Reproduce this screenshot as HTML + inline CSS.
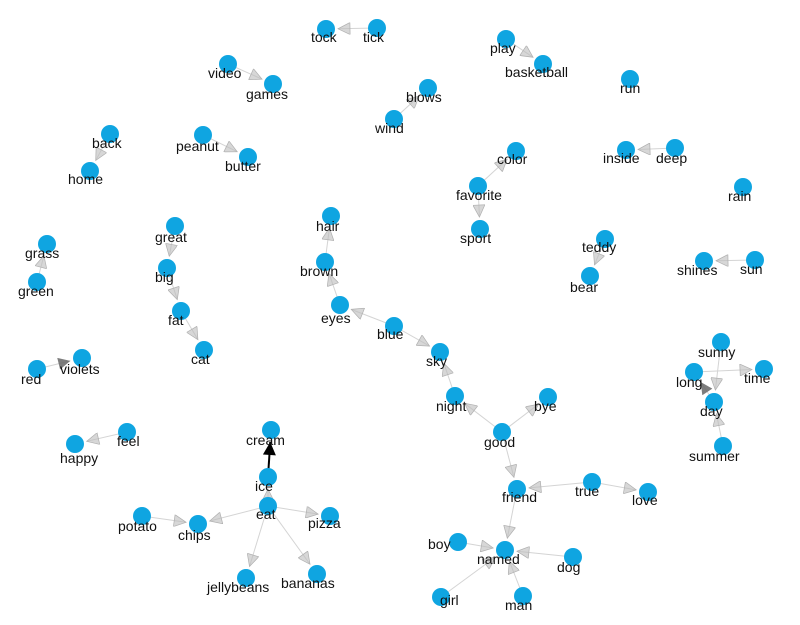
<!DOCTYPE html>
<html><head><meta charset="utf-8"><style>
html,body{margin:0;padding:0;background:#fff;}
svg{display:block;}
text{font-family:"Liberation Sans",sans-serif;font-size:14px;fill:#111;}
</style></head><body>
<svg id="g" width="800" height="625" viewBox="0 0 800 625">
<defs>
<marker id="ah" viewBox="0 0 10 10" refX="10" refY="5" markerWidth="15" markerHeight="12" orient="auto" markerUnits="userSpaceOnUse"><path d="M0,0 L10,5 L0,10 z" fill="#bcbcbc" fill-opacity="0.6" stroke="#b0b0b0" stroke-width="0.6"/></marker>
<marker id="ahd" viewBox="0 0 10 10" refX="10" refY="5" markerWidth="15" markerHeight="12" orient="auto" markerUnits="userSpaceOnUse"><path d="M0,0 L10,5 L0,10 z" fill="#666" fill-opacity="0.85"/></marker>
<marker id="ahb" viewBox="0 0 10 10" refX="10" refY="5" markerWidth="15" markerHeight="13" orient="auto" markerUnits="userSpaceOnUse"><path d="M0,0 L10,5 L0,10 z" fill="#000"/></marker>
</defs>
<g id="edges"></g><g id="nodes"></g><g id="labels"></g>
</svg>
<script>
// node names, node layout x/y, label layout x/y
const names=["tock","tick","play","basketball","run","video","games","blows","wind","back","home","peanut","butter","color","favorite","sport","inside","deep","rain","hair","brown","eyes","blue","sky","teddy","bear","shines","sun","grass","green","great","big","fat","cat","red","violets","happy","feel","cream","ice","pizza","eat","chips","potato","jellybeans","bananas","night","good","bye","friend","true","love","named","boy","dog","girl","man","sunny","time","long","day","summer"];
const nodeX=[326,377,506,543,630,228,273,428,394,110,90,203,248,516,478,480,626,675,743,331,325,340,394,440,605,590,704,755,47,37,175,167,181,204,37,82,75,127,271,268,330,268,198,142,246,317,455,502,548,517,592,648,505,458,573,441,523,721,764,694,714,723];
const nodeY=[29,28,39,64,79,64,84,88,119,134,171,135,157,151,186,229,150,148,187,216,262,305,326,352,239,276,261,260,244,282,226,268,311,350,369,358,444,432,430,477,516,506,524,516,578,574,396,432,397,489,482,492,550,542,557,597,596,342,369,372,402,446];
const labelX=[311,363,490,505,620,208,246,406,375,92,68,176,225,497,456,460,603,656,728,316,300,321,377,426,582,570,677,740,25,18,155,155,168,191,21,60,60,117,246,255,308,256,178,118,207,281,436,484,534,502,575,632,477,428,557,440,505,698,744,676,700,689];
const labelY=[37,37,48,72,88,73,94,97,128,143,179,146,166,159,195,238,158,158,196,226,271,318,334,361,247,287,270,269,253,291,237,277,320,359,379,369,458,441,440,486,523,514,535,526,587,583,406,442,406,497,491,500,559,544,567,600,605,352,378,382,411,456];
// edges: source -> target, style (0 light, 1 dark, 2 black)
const edgeFrom=["tick","play","video","wind","back","peanut","favorite","favorite","deep","brown","eyes","blue","blue","teddy","sun","green","great","big","fat","red","feel","ice","eat","eat","eat","eat","eat","potato","night","good","good","good","true","true","friend","boy","dog","girl","man","sunny","summer","day","long"];
const edgeTo=["tock","basketball","games","blows","home","butter","color","sport","inside","hair","brown","eyes","sky","bear","shines","grass","big","fat","cat","violets","happy","cream","ice","pizza","chips","bananas","jellybeans","chips","sky","night","bye","friend","friend","love","named","named","named","named","named","day","day","long","time"];
const edgeStyle=[0,0,0,0,0,0,0,0,0,0,0,0,0,0,0,0,0,0,0,1,0,2,0,0,0,0,0,0,0,0,0,0,0,0,0,0,0,0,0,0,0,1,0];
const R=9, NS="http://www.w3.org/2000/svg";
const eg=document.getElementById('edges'),ng=document.getElementById('nodes'),lg=document.getElementById('labels');
const idx=n=>names.indexOf(n);
for(let k=0;k<edgeFrom.length;k++){
  const a=idx(edgeFrom[k]),b=idx(edgeTo[k]);
  const x1=nodeX[a],y1=nodeY[a],x2=nodeX[b],y2=nodeY[b];
  const d=Math.hypot(x2-x1,y2-y1)||1,ux=(x2-x1)/d,uy=(y2-y1)/d;
  const s=edgeStyle[k];
  const l=document.createElementNS(NS,'line');
  l.setAttribute('x1',x1);l.setAttribute('y1',y1);
  l.setAttribute('x2',x2-ux*(R+3));l.setAttribute('y2',y2-uy*(R+3));
  l.setAttribute('stroke',s==2?'#000':'#d4d4d4');
  l.setAttribute('stroke-width',s==2?2:1);
  l.setAttribute('marker-end',s==2?'url(#ahb)':(s==1?'url(#ahd)':'url(#ah)'));
  
  
  eg.appendChild(l);
}
for(let i=0;i<names.length;i++){
  const c=document.createElementNS(NS,'circle');
  c.setAttribute('cx',nodeX[i]);c.setAttribute('cy',nodeY[i]);c.setAttribute('r',R);
  c.setAttribute('fill','#0fa5e1');
  
  
  ng.appendChild(c);
  const t=document.createElementNS(NS,'text');
  t.setAttribute('x',labelX[i]);t.setAttribute('y',labelY[i]+5);
  t.textContent=names[i];
  
  
  lg.appendChild(t);
}
</script>
</body></html>
